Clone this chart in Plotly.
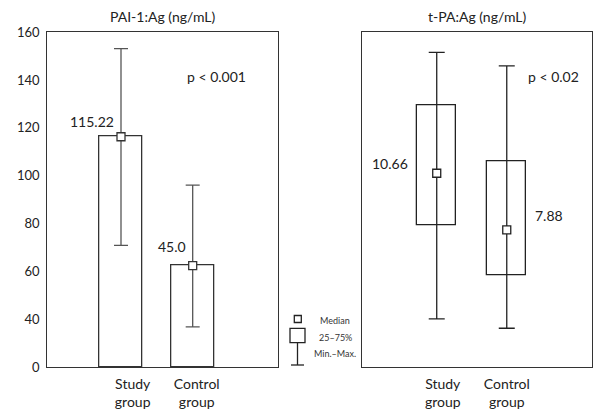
import plotly.graph_objects as go

# ---------------- data ----------------
categories = ["Study group", "Control group"]

# PAI-1:Ag (ng/mL)
pai_min = [70.9, 33.5]
pai_q1 = [0.0, 0.0]
pai_median = [116.3, 62.4]
pai_q3 = [116.3, 62.4]
pai_max = [153.2, 96.1]
pai_labels = ["115.22", "45.0"]
pai_p = "p < 0.001"

# t-PA:Ag (ng/mL)
tpa_min = [3.52, 3.06]
tpa_q1 = [8.09, 5.67]
tpa_median = [10.66, 7.88]
tpa_q3 = [13.97, 11.26]
tpa_max = [16.59, 15.92]
tpa_labels = ["10.66", "7.88"]
tpa_p = "p < 0.02"

pai_tick_values = [0, 40, 60, 80, 100, 120, 140, 160]
legend_texts = ["Median", "25\u201375%", "Min.\u2013Max."]

# ---------------- helpers ----------------
W, H = 593, 414
FONT = "Lato"


def px(x):
    return x / W


def py(y):
    return 1 - y / H


def tr(v):
    # broken left axis: 0-40 occupies one step, then 20 per step
    return v / 40.0 if v < 40 else 1 + (v - 40) / 20.0


xpos = [1, 2]

fig = go.Figure()

# ---- left panel ----
lq1 = [tr(v) for v in pai_q1]
lq3 = [tr(v) for v in pai_q3]
lmed = [tr(v) for v in pai_median]
lmin = [tr(v) for v in pai_min]
lmax = [tr(v) for v in pai_max]

fig.add_trace(go.Bar(
    x=xpos, y=[b - a for a, b in zip(lq1, lq3)], base=lq1, width=0.607,
    marker=dict(color="rgba(0,0,0,0)", line=dict(color="#333333", width=1.3)),
    xaxis="x", yaxis="y", showlegend=False, hoverinfo="skip"))
fig.add_trace(go.Scatter(
    x=xpos, y=lmed, mode="markers",
    marker=dict(symbol="square", size=8, color="white",
                line=dict(color="#333333", width=1.3)),
    error_y=dict(type="data", symmetric=False,
                 array=[b - m for m, b in zip(lmed, lmax)],
                 arrayminus=[m - a for m, a in zip(lmed, lmin)],
                 color="#555555", thickness=1.3, width=7),
    xaxis="x", yaxis="y", showlegend=False))

# ---- right panel ----
fig.add_trace(go.Bar(
    x=xpos, y=[b - a for a, b in zip(tpa_q1, tpa_q3)], base=tpa_q1, width=0.56,
    marker=dict(color="rgba(0,0,0,0)", line=dict(color="#222222", width=1.3)),
    xaxis="x2", yaxis="y2", showlegend=False, hoverinfo="skip"))
fig.add_trace(go.Scatter(
    x=xpos, y=tpa_median, mode="markers",
    marker=dict(symbol="square", size=8, color="white",
                line=dict(color="#222222", width=1.3)),
    error_y=dict(type="data", symmetric=False,
                 array=[b - m for m, b in zip(tpa_median, tpa_max)],
                 arrayminus=[m - a for m, a in zip(tpa_median, tpa_min)],
                 color="#222222", thickness=1.3, width=8),
    xaxis="x2", yaxis="y2", showlegend=False))

ydom = [py(367), py(32.3)]
tick_cat = [c.replace(" ", "<br>") for c in categories]

fig.update_layout(
    width=W, height=H, margin=dict(l=0, r=0, t=0, b=0, autoexpand=False),
    paper_bgcolor="white", plot_bgcolor="white",
    font=dict(family=FONT, color="#222222"),
    bargap=0,
    xaxis=dict(domain=[px(47.3), px(278)], range=[-0.028, 3.19], automargin=False,
               showgrid=False, zeroline=False, showline=True, mirror=True,
               linecolor="#333333", linewidth=1.3, ticks="",
               tickvals=[1.163, 2.056], ticktext=tick_cat, ticklabelstandoff=4,
               tickfont=dict(size=14, color="#222222")),
    yaxis=dict(domain=ydom, range=[0, 7], anchor="x", automargin=False,
               showgrid=False, zeroline=False, showline=True, mirror=True,
               linecolor="#333333", linewidth=1.3, ticks="",
               tickvals=[tr(v) for v in pai_tick_values],
               ticktext=[str(v) for v in pai_tick_values],
               tickfont=dict(size=13, color="#222222"), ticklabelstandoff=4),
    xaxis2=dict(domain=[px(362), px(591.5)], range=[-0.067, 3.21], anchor="y2",
                automargin=False,
                showgrid=False, zeroline=False, showline=True, mirror=True,
                linecolor="#333333", linewidth=1.3, ticks="",
                tickvals=[1.086, 2.0], ticktext=tick_cat, ticklabelstandoff=4,
                tickfont=dict(size=14, color="#222222")),
    yaxis2=dict(domain=ydom, range=[1.16, 17.57], anchor="x2", automargin=False,
                showgrid=False, zeroline=False, showline=True, mirror=True,
                linecolor="#333333", linewidth=1.3, showticklabels=False, ticks=""),
)

ann = []
# titles
ann.append(dict(text="PAI-1:Ag (ng/mL)", x=px(162.7), y=py(16.7)))
ann.append(dict(text="t-PA:Ag (ng/mL)", x=px(476.7), y=py(17)))
# p-values
ann.append(dict(text=pai_p, x=px(216.7), y=py(76.7)))
ann.append(dict(text=tpa_p, x=px(553.3), y=py(76.7)))
# median value labels
ann.append(dict(text=pai_labels[0], x=px(91.7), y=py(121.7)))
ann.append(dict(text=pai_labels[1], x=px(172), y=py(246)))
ann.append(dict(text=tpa_labels[0], x=px(390), y=py(163.3)))
ann.append(dict(text=tpa_labels[1], x=px(549.3), y=py(215)))
for a in ann:
    a.update(xref="paper", yref="paper", xanchor="center", yanchor="middle",
             showarrow=False, font=dict(size=14, color="#222222", family=FONT))
# legend key texts
for t, yy in zip(legend_texts, [320.3, 337, 353]):
    ann.append(dict(text=t, x=px(335), y=py(yy), xref="paper", yref="paper",
                    xanchor="center", yanchor="middle", showarrow=False,
                    font=dict(size=9, color="#333333", family=FONT)))
fig.update_layout(annotations=ann)

# legend key symbols (decorative, paper coordinates)
shapes = [
    dict(type="rect", x0=px(294.3), x1=px(301.3), y0=py(322.5), y1=py(315.5)),
    dict(type="rect", x0=px(290), x1=px(305), y0=py(342.7), y1=py(328.3)),
    dict(type="line", x0=px(297.5), x1=px(297.5), y0=py(342.7), y1=py(365)),
    dict(type="line", x0=px(291), x1=px(304), y0=py(365), y1=py(365)),
]
for s in shapes:
    s.update(xref="paper", yref="paper", line=dict(color="#222222", width=1.3))
fig.update_layout(shapes=shapes)

fig.write_html("out.html")
